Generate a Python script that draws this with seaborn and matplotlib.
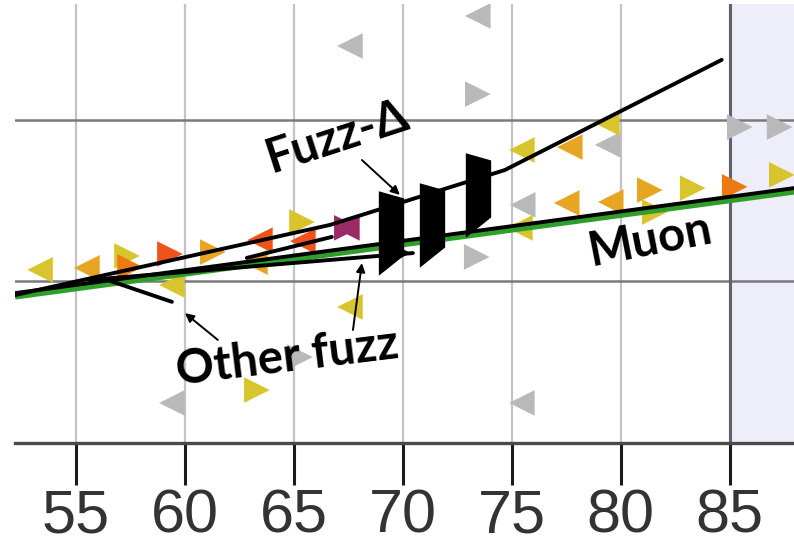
import pandas as pd
import matplotlib.pyplot as plt
import matplotlib.transforms as mtransforms
from matplotlib.path import Path
import seaborn as sns

# --- hits (x in cm-ish, y in arbitrary units) ---
hit_x = [53.35, 55.50, 57.34, 57.48, 59.31, 59.40, 61.28, 63.44, 63.21, 65.37,
         65.41, 67.43, 67.43, 67.57, 73.44, 73.44, 85.46, 87.29, 79.40, 79.36,
         77.66, 75.46, 75.50, 75.37, 77.52, 79.54, 81.33, 81.56, 83.30, 85.23,
         87.39, 73.39, 67.57, 59.40, 63.30, 65.28, 75.46, 69.77]
hit_y = [5.36, 5.42, 5.79, 5.45, 5.85, 4.89, 5.91, 6.28, 5.60, 6.84,
         6.25, 6.66, 6.66, 12.29, 13.22, 10.80, 9.78, 9.78, 9.23, 9.91,
         9.16, 9.07, 7.37, 6.66, 7.43, 7.46, 7.83, 7.15, 7.89, 7.93,
         8.30, 5.76, 4.21, 1.24, 1.64, 2.66, 1.24, 5.88]
hit_side = ['L', 'L', 'R', 'R', 'R', 'L', 'R', 'L', 'L', 'R',
            'L', 'L', 'R', 'L', 'L', 'R', 'R', 'R', 'L', 'L',
            'L', 'L', 'L', 'L', 'L', 'L', 'R', 'R', 'R', 'R',
            'R', 'R', 'L', 'L', 'R', 'R', 'L', 'R']
hit_kind = ['yellow', 'gold', 'yellow', 'orange', 'red', 'yellow', 'gold', 'red', 'gold', 'yellow',
            'red', 'magenta', 'magenta', 'gray', 'gray', 'gray', 'gray', 'gray', 'gray', 'yellow',
            'gold', 'yellow', 'gray', 'yellow', 'gold', 'gold', 'gold', 'yellow', 'yellow', 'orange',
            'yellow', 'gray', 'yellow', 'gray', 'yellow', 'gray', 'gray', 'delta']

# big black hits of the delta ray
delta_x = [69.45, 71.33, 73.44]
delta_y = [6.50, 6.75, 7.68]

# reconstructed tracks
muon_x = [52.2, 87.95]
muon_y = [4.64, 7.89]
fuzz_delta_x = [52.2, 66.65, 74.68, 84.63]
fuzz_delta_y = [4.58, 6.75, 8.45, 11.86]
other_a_x = [56.56, 59.40]
other_a_y = [5.02, 4.37]
other_b_x = [55.64, 70.46]
other_b_y = [5.05, 5.88]
other_c_x = [62.84, 66.74]
other_c_y = [5.73, 6.38]

x_ticks = [55, 60, 65, 70, 75, 80, 85]

hit_colors = {'yellow': '#d8c42c', 'gold': '#e6a522', 'orange': '#ec7a14',
              'red': '#f0521c', 'magenta': '#9c2a66', 'gray': '#b9b9b9',
              'delta': '#000000'}

hits = pd.DataFrame({'x': hit_x, 'y': hit_y, 'side': hit_side, 'kind': hit_kind})

sns.set_style("white")
fig = plt.figure(figsize=(7.94, 5.56), dpi=100)
ax = fig.add_axes([15 / 794, 113 / 556, 779 / 794, 439 / 556])

ax.axvspan(85, 90, color='#eeeefb', zorder=0, lw=0)

sns.scatterplot(data=hits, x='x', y='y', hue='kind', style='side',
                palette=hit_colors, markers={'L': '<', 'R': '>'},
                s=340, linewidth=0, legend=False, ax=ax, zorder=2)

# tracks
down = mtransforms.offset_copy(ax.transData, fig=fig, x=0, y=-3, units='dots')
ax.plot(muon_x, muon_y, color='#2f9e2a', lw=5, transform=down, zorder=3,
        solid_capstyle='butt')
for tx, ty in [(fuzz_delta_x, fuzz_delta_y), (other_a_x, other_a_y),
               (other_b_x, other_b_y), (other_c_x, other_c_y), (muon_x, muon_y)]:
    sns.lineplot(x=tx, y=ty, color='black', lw=2.8, sort=False,
                 estimator=None, ax=ax, zorder=4)

tall = Path([(-0.3, 1.0), (0.3, 0.83), (0.3, -0.52), (-0.3, -1.0), (-0.3, 1.0)],
            [Path.MOVETO, Path.LINETO, Path.LINETO, Path.LINETO, Path.CLOSEPOLY])
ax.scatter(delta_x, delta_y, marker=tall, s=3700, color='black', lw=0, zorder=5)

# labels
lab = dict(fontsize=34, fontweight='bold', family=['Lato', 'DejaVu Sans'],
           color='black', ha='center', va='center', rotation_mode='anchor', zorder=7)
ax.text(66.97, 9.48, 'Fuzz-Δ', rotation=18, **lab)
ax.text(81.33, 6.28, 'Muon', rotation=11, **lab)
ax.text(64.68, 2.66, 'Other fuzz', rotation=7, **lab)

arw = dict(arrowstyle='-|>', color='black', lw=1.4, mutation_scale=13,
           shrinkA=0, shrinkB=0)
ax.annotate('', xy=(69.86, 7.68), xytext=(68.12, 8.76), arrowprops=arw, zorder=6)
ax.annotate('', xy=(60.0, 4.02), xytext=(61.51, 3.19), arrowprops=arw, zorder=6)
ax.annotate('', xy=(68.12, 5.57), xytext=(67.71, 3.50), arrowprops=arw, zorder=6)

# axes styling
ax.set_xlim(52.2, 87.95)
ax.set_ylim(0, 13.59)
ax.set_xticks(x_ticks)
ax.set_yticks([5, 10])
ax.set_xlabel('')
ax.set_ylabel('')
ax.set_axisbelow(True)
ax.grid(axis='x', color='#c4c4c4', lw=1.6)
ax.grid(axis='y', color='#7a7a7a', lw=1.8)
ax.axvline(85, color='#60606e', lw=2.2, zorder=1)
for side in ['top', 'left', 'right']:
    ax.spines[side].set_visible(False)
ax.spines['bottom'].set_color('#4a4a4a')
ax.spines['bottom'].set_linewidth(2.4)
ax.tick_params(axis='y', left=False, labelleft=False)
ax.tick_params(axis='x', bottom=True, length=30, width=2.2, color='#1a1a1a',
               pad=3, labelsize=44, labelcolor='#333333')
for t in ax.get_xticklabels():
    t.set_fontfamily('Liberation Sans')

fig.savefig('out.png', dpi=100, facecolor='white')
